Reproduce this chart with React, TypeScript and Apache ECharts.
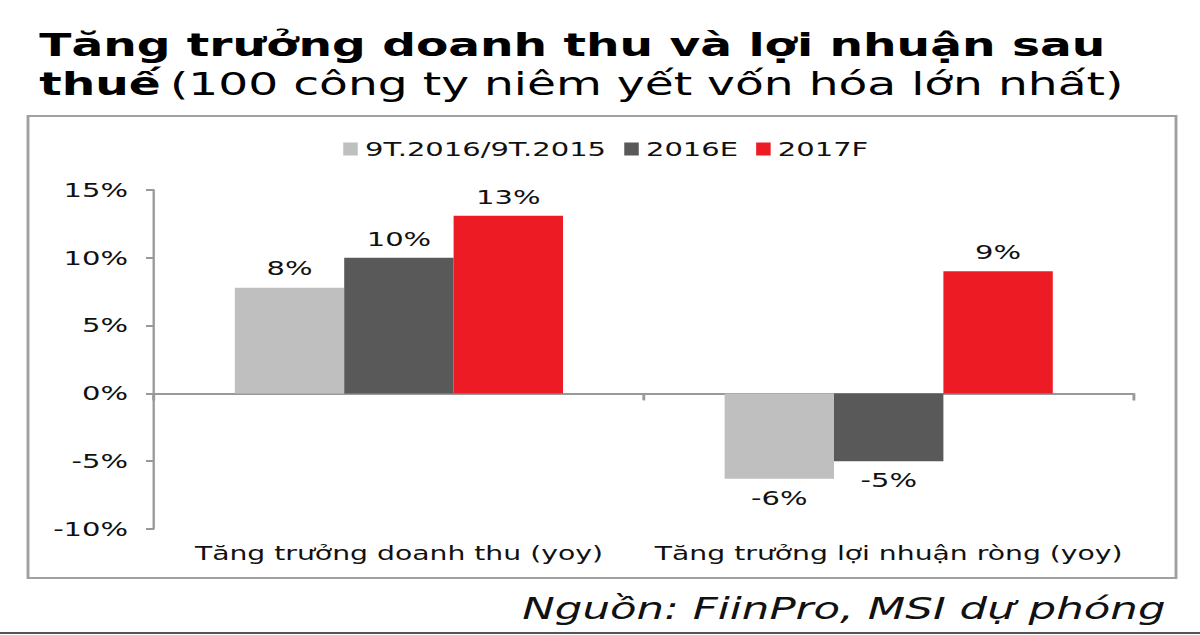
import React, { useEffect, useRef } from "react";
import * as echarts from "echarts";

const categories = ["Tăng trưởng doanh thu (yoy)", "Tăng trưởng lợi nhuận ròng (yoy)"];
const seriesNames = ["9T.2016/9T.2015", "2016E", "2017F"];
const seriesLight = [7.8, -6.3];
const seriesDark = [10.0, -5.0];
const seriesRed = [13.1, 9.0];
const seriesColors = ["#bfbfbf", "#595959", "#ed1c24"];
const yTicks = { min: -10, max: 15, interval: 5 };

const FONT = "DejaVu Sans, Verdana, sans-serif";
// the reference picture is stretched horizontally; the chart is drawn narrower and widened with CSS
const S = 1.45;
const W = 1200 / S;
const px = (x: number) => x / S;

export default function App() {
  const ref = useRef<HTMLDivElement>(null);
  useEffect(() => {
    if (!ref.current) return;
    const chart = echarts.init(ref.current, null, { renderer: "svg" });
    const allValues = [seriesLight, seriesDark, seriesRed];
    const series = allValues.map((vals, i) => ({
      name: seriesNames[i],
      type: "bar",
      xAxisIndex: 0,
      barGap: "0%",
      barCategoryGap: "33%",
      itemStyle: { color: seriesColors[i] },
      data: vals.map((v) => ({
        value: v,
        label: { position: v >= 0 ? "top" : "bottom" },
      })),
      label: {
        show: true,
        distance: 9,
        color: "#111",
        fontFamily: FONT,
        fontSize: 20,
        formatter: (p: any) => Math.round(p.value) + "%",
      },
    }));
    chart.setOption({
      animation: false,
      backgroundColor: "#fff",
      textStyle: { fontFamily: FONT },
      title: {
        left: px(32),
        top: 20,
        text: "{b|Tăng trưởng doanh thu và lợi nhuận sau}\n{b|thuế} {n|(100 công ty niêm yết vốn hóa lớn nhất)}",
        textStyle: {
          rich: {
            b: { fontFamily: FONT, fontWeight: "bold", fontSize: 32.5, color: "#000", lineHeight: 39 },
            n: { fontFamily: FONT, fontWeight: "normal", fontSize: 32.5, color: "#000", lineHeight: 39 },
          },
        },
      },
      legend: {
        top: 134,
        left: px(336),
        itemWidth: 10,
        itemHeight: 13,
        itemGap: px(18),
        icon: "rect",
        textStyle: { fontFamily: FONT, fontSize: 20, color: "#111" },
        data: seriesNames,
      },
      graphic: [
        {
          type: "rect",
          shape: { x: px(28), y: 116, width: px(1148), height: 462 },
          style: { fill: "none", stroke: "#a0a0a0", lineWidth: 2 },
          silent: true,
        },
        {
          type: "line",
          shape: { x1: 0, y1: 633, x2: W, y2: 633 },
          style: { stroke: "#555", lineWidth: 2 },
          silent: true,
        },
        {
          type: "text",
          right: px(35),
          top: 594,
          style: {
            text: "Nguồn: FiinPro, MSI dự phóng",
            font: "italic 30px " + FONT,
            fill: "#111",
          },
        },
      ],
      grid: { left: px(154), right: px(67), top: 190, bottom: 106 },
      xAxis: [
        {
          type: "category",
          data: categories,
          position: "bottom",
          axisLine: { show: false, onZero: false },
          axisTick: { show: false },
          axisLabel: { interval: 0, fontFamily: FONT, fontSize: 19.5, color: "#111", margin: 14 },
        },
        {
          type: "category",
          data: categories,
          position: "top",
          axisLine: { show: true, onZero: true, lineStyle: { color: "#999", width: 2 } },
          axisTick: { show: true, inside: true, length: 7, lineStyle: { color: "#999", width: 2 } },
          axisLabel: { show: false },
        },
      ],
      yAxis: {
        type: "value",
        min: yTicks.min,
        max: yTicks.max,
        interval: yTicks.interval,
        splitLine: { show: false },
        axisLine: { show: true, lineStyle: { color: "#999", width: 1.6 } },
        axisTick: { show: true, length: px(8), lineStyle: { color: "#999", width: 2 } },
        axisLabel: {
          fontFamily: FONT,
          fontSize: 20,
          color: "#111",
          margin: px(26),
          formatter: "{value}%",
        },
      },
      series,
    });
    return () => chart.dispose();
  }, []);
  return (
    <div
      ref={ref}
      style={{
        position: "fixed",
        left: 0,
        top: 0,
        width: W,
        height: 635,
        transform: `scaleX(${S})`,
        transformOrigin: "0 0",
      }}
    />
  );
}
